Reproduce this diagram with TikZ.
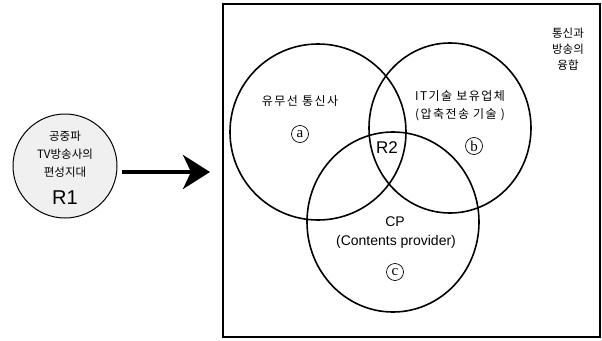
\documentclass[tikz,border=0pt]{standalone}
\usepackage{fontspec}
\setmainfont{Liberation Sans}
\newfontfamily\krfont{Noto Sans CJK KR}
\newfontfamily\letterfont{Liberation Serif}
\usetikzlibrary{arrows.meta}
\tikzset{
  venn/.style={draw, line width=1.6pt},
  framebox/.style={draw, line width=2pt, minimum width=377pt, minimum height=333pt, anchor=north west, inner sep=0pt},
  rone/.style={circle, draw, line width=1pt, fill=black!6, minimum size=104pt, inner sep=0pt},
  krtext/.style={font=\krfont\fontsize{12}{13}\selectfont\addfontfeatures{LetterSpace=12}, inner sep=0pt},
  krsmall/.style={font=\krfont\fontsize{11.5}{13}\selectfont, inner sep=0pt},
  lattext/.style={font=\fontsize{14}{16}\selectfont, inner sep=0pt},
  rlabel/.style={font=\fontsize{17}{18}\selectfont, inner sep=0pt},
  circletter/.style={circle, draw, line width=0.7pt, inner sep=1.2pt, minimum size=17pt, font=\letterfont\fontsize{15}{15}\selectfont},
  bigarrow/.style={line width=4pt, -{Stealth[length=27pt,width=34pt,inset=8pt]}}
}
\begin{document}
\begin{tikzpicture}[x=1pt,y=-1pt]
\useasboundingbox (0,0) rectangle (602,340);
\fill[white] (0,0) rectangle (602,340);

% left circle R1
\node[rone] (r1) at (65,166) {};
\node[krsmall] (t1) at (65,136) {공중파};
\node[krsmall] (t2) at (65,154) {TV방송사의};
\node[krsmall] (t3) at (65,172) {편성지대};
\node[rlabel, font=\fontsize{20}{20}\selectfont] (r1lab) at (65,198) {R1};

% arrow
\coordinate (as) at (122,172);
\coordinate (ae) at (210,172);
\draw[bigarrow] (as) -- (ae);

% frame
\node[framebox] (frame) at (222,3) {};

% Venn circles
\draw[venn] (318,132) circle [x radius=88pt, y radius=88pt];
\draw[venn] (450,128) circle [x radius=81pt, y radius=85pt];
\draw[venn] (393,222) circle [x radius=86pt, y radius=90pt];

% labels
\node[krtext] (la) at (300,101) {유무선 통신사};
\node[circletter] (ca) at (300,134) {a};
\node[krtext] (lb1) at (460,96) {IT기술 보유업체};
\node[krtext] (lb2) at (460,115) {(압축전송 기술 )};
\node[circletter] (cb) at (474,146) {b};
\node[lattext] (lc1) at (395,222) {CP};
\node[lattext] (lc2) at (396,242) {(Contents provider)};
\node[circletter] (cc) at (395,272) {c};
\node[rlabel] (r2) at (387,148) {R2};

\node[krsmall, align=center] (conv) at (568,49) {통신과\\[3pt]방송의\\[3pt]융합};
\end{tikzpicture}
\end{document}
